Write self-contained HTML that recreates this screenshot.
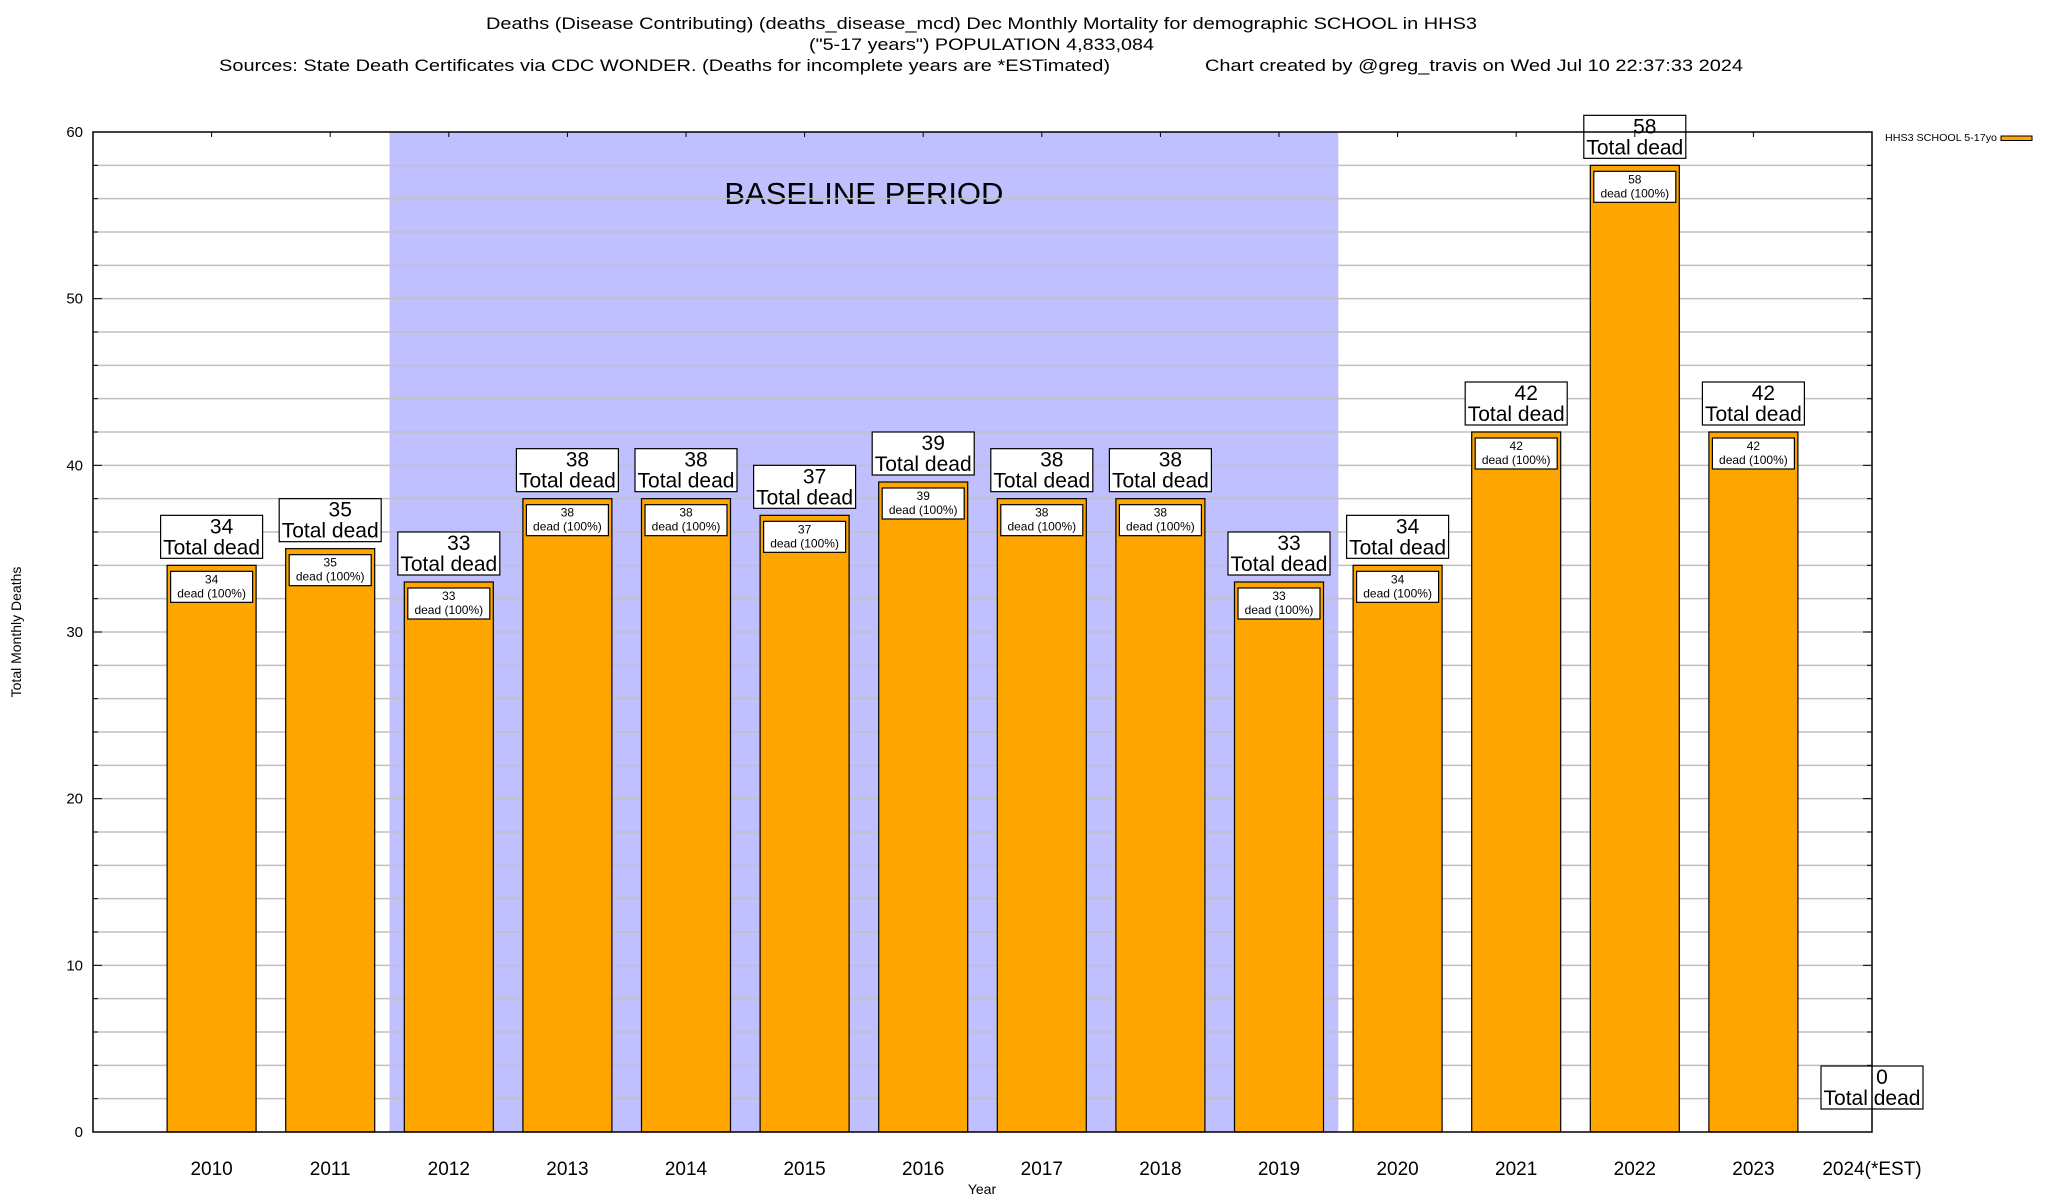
<!DOCTYPE html>
<html><head><meta charset="utf-8"><style>
html,body{margin:0;padding:0;background:#fff;}
svg{display:block;font-family:"Liberation Sans",Arial,sans-serif;}
</style></head><body>
<svg id="chart" width="2048" height="1200" viewBox="0 0 2048 1200" xmlns="http://www.w3.org/2000/svg">
<text x="486" y="29" font-size="17" textLength="991" lengthAdjust="spacingAndGlyphs">Deaths (Disease Contributing) (deaths_disease_mcd) Dec Monthly Mortality for demographic SCHOOL in HHS3</text>
<text x="809" y="50" font-size="17" textLength="345" lengthAdjust="spacingAndGlyphs">("5-17 years") POPULATION 4,833,084</text>
<text x="219" y="71" font-size="17" textLength="891" lengthAdjust="spacingAndGlyphs">Sources: State Death Certificates via CDC WONDER. (Deaths for incomplete years are *ESTimated)</text>
<text x="1205" y="71" font-size="17" textLength="538" lengthAdjust="spacingAndGlyphs">Chart created by @greg_travis on Wed Jul 10 22:37:33 2024</text>
<g id="plot"></g>
<text transform="translate(21,632) rotate(-90)" text-anchor="middle" font-size="14">Total Monthly Deaths</text>
<text x="982" y="1194" text-anchor="middle" font-size="14">Year</text>
<text x="1885" y="141" font-size="10.5" textLength="112" lengthAdjust="spacingAndGlyphs">HHS3 SCHOOL 5-17yo</text>
<rect x="2001" y="136" width="31" height="4.5" fill="#ffa500" stroke="#000" stroke-width="1"/>
</svg>
<script>
const categories = ["2010","2011","2012","2013","2014","2015","2016","2017","2018","2019","2020","2021","2022","2023","2024(*EST)"];
const deaths = [34,35,33,38,38,37,39,38,38,33,34,42,58,42,0];
const yTicks = [0,10,20,30,40,50,60];
const baselineStart = 1.5;
const baselineEnd = 9.5;

const NS = "http://www.w3.org/2000/svg";
const L = 93, R = 1872, T = 132, B = 1132;
const yMin = 0, yMax = 60;
function xScale(i){ return L + (i + 1) * (R - L) / 15; }
function yScale(v){ return B - (v - yMin) * (B - T) / (yMax - yMin); }
const g = document.getElementById("plot");
function mk(tag, attrs, parent){
  const e = document.createElementNS(NS, tag);
  for (const k in attrs) e.setAttribute(k, attrs[k]);
  (parent || g).appendChild(e);
  return e;
}

// baseline shading
const shade = mk("rect", {x: xScale(baselineStart), y: T, width: xScale(baselineEnd) - xScale(baselineStart), height: B - T, fill: "#c0c0ff"});


const bt = mk("text", {x: (xScale(baselineStart) + xScale(baselineEnd)) / 2, y: 204, "text-anchor": "middle", "font-size": "31"});
bt.textContent = "BASELINE PERIOD";



// gridlines and y ticks
for (let v = yMin; v <= yMax; v += 2) {
  const y = yScale(v);
  if (v > yMin && v < yMax) {
    const gl = mk("line", {x1: L, x2: R, y1: y, y2: y, stroke: "#c0c0c0", "stroke-width": 1.5});
    
    
  }
  const len = (v % 10 === 0) ? 9 : 5;
  mk("line", {x1: L, x2: L + len, y1: y, y2: y, stroke: "#000", "stroke-width": 1});
  mk("line", {x1: R - len, x2: R, y1: y, y2: y, stroke: "#000", "stroke-width": 1});
}
yTicks.forEach(v => {
  const t = mk("text", {x: 83, y: yScale(v) + 5, "text-anchor": "end", "font-size": "15"});
  t.textContent = v;
  
  
});

// bars
const bw = 89;
categories.forEach((c, i) => {
  const cx = xScale(i);
  const v = deaths[i];
  const top = yScale(v);
  if (v > 0) {
    const bar = mk("rect", {x: cx - bw / 2, y: top, width: bw, height: B - top, fill: "#ffa500", stroke: "#000", "stroke-width": 1.2});
    
    
    const ib = mk("rect", {x: cx - 41, y: top + 6, width: 82, height: 31, fill: "#fff", stroke: "#000", "stroke-width": 1.2});
    
    
    const t1 = mk("text", {x: cx, y: top + 18, "text-anchor": "middle", "font-size": "12"});
    t1.textContent = v;
    
    
    const t2 = mk("text", {x: cx, y: top + 32, "text-anchor": "middle", "font-size": "12"});
    t2.textContent = "dead (100%)";
    
    
  }
  const bb = v > 0 ? top - 7 : yScale(v) - 23;
  const ob = mk("rect", {x: cx - 51, y: bb - 43, width: 102, height: 43, fill: "#fff", stroke: "#000", "stroke-width": 1.2});
  
  
  const n = mk("text", {x: cx + 10, y: bb - 25, "text-anchor": "middle", "font-size": "21"});
  n.textContent = v;
  
  
  const td = mk("text", {x: cx, y: bb - 4, "text-anchor": "middle", "font-size": "21"});
  td.textContent = "Total dead";
  
  
  const xl = mk("text", {x: cx, y: 1175, "text-anchor": "middle", "font-size": "19"});
  xl.textContent = c;
  
  
  mk("line", {x1: cx, x2: cx, y1: T, y2: T + 5, stroke: "#000", "stroke-width": 1});
});

// axis frame
const fr = mk("rect", {x: L, y: T, width: R - L, height: B - T, fill: "none", stroke: "#000", "stroke-width": 1.5});


</script>
</body></html>
